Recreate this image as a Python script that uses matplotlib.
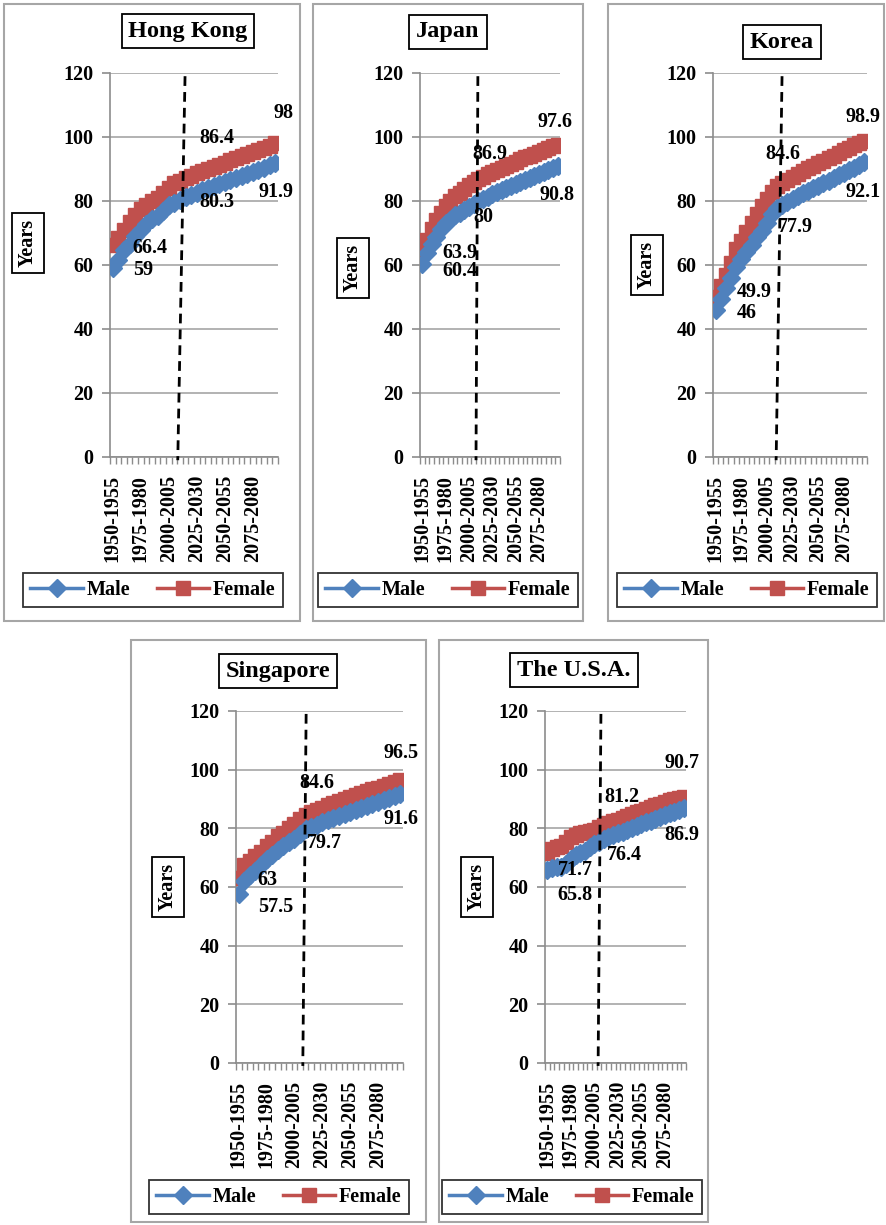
import numpy as np
import matplotlib.pyplot as plt
from matplotlib.patches import Rectangle

plt.rcParams['font.family'] = ['Liberation Serif', 'DejaVu Serif']
plt.rcParams['font.weight'] = 'bold'

# five-year periods, 1950-1955 .. 2095-2100
periods = [f"{y}-{y + 5}" for y in range(1950, 2100, 5)]
now_period = "2010-2015"

hk_male = [59.0, 61.7, 64.6, 66.7, 69.0, 70.9, 72.8, 74.4, 75.4, 77.0, 78.6, 79.4, 80.3,
           81.1, 81.9, 82.6, 83.3, 84.0, 84.7, 85.4, 86.0, 86.7, 87.3, 87.9, 88.5, 89.1,
           89.7, 90.3, 91.1, 91.9]
hk_female = [66.4, 68.5, 71.0, 73.5, 75.5, 77.6, 78.8, 80.0, 81.0, 82.5, 84.2, 85.5, 86.4,
             87.2, 87.9, 88.6, 89.3, 90.0, 90.7, 91.4, 92.0, 92.7, 93.3, 94.0, 94.6, 95.3,
             95.9, 96.6, 97.3, 98.0]

jp_male = [60.4, 63.6, 66.5, 68.9, 71.1, 73.0, 74.2, 75.5, 76.3, 77.1, 78.0, 79.0, 80.0,
           80.7, 81.4, 82.1, 82.8, 83.5, 84.1, 84.8, 85.4, 86.0, 86.7, 87.3, 87.9, 88.5,
           89.1, 89.6, 90.2, 90.8]
jp_female = [63.9, 67.8, 71.4, 74.0, 76.3, 78.5, 79.9, 81.5, 82.6, 83.8, 85.0, 86.0, 86.9,
             87.6, 88.3, 89.0, 89.7, 90.4, 91.0, 91.7, 92.3, 93.0, 93.6, 94.2, 94.8, 95.4,
             96.0, 96.5, 97.1, 97.6]

kr_male = [46.0, 49.5, 52.7, 56.0, 59.5, 61.9, 64.0, 66.4, 68.6, 70.7, 73.0, 75.9, 77.9,
           78.9, 79.8, 80.7, 81.6, 82.4, 83.2, 84.0, 84.8, 85.6, 86.4, 87.2, 88.0, 88.8,
           89.6, 90.4, 91.3, 92.1]
kr_female = [49.9, 53.5, 57.0, 60.5, 65.0, 67.5, 70.3, 73.2, 75.9, 78.5, 80.5, 82.9, 84.6,
             85.7, 86.7, 87.6, 88.5, 89.4, 90.2, 91.0, 91.8, 92.6, 93.4, 94.2, 95.0, 95.8,
             96.6, 97.4, 98.2, 98.9]

sg_male = [57.5, 62.0, 64.0, 65.5, 67.5, 69.5, 70.8, 72.5, 74.0, 75.5, 76.5, 78.2, 79.7,
           80.5, 81.3, 82.0, 82.8, 83.5, 84.2, 84.9, 85.6, 86.3, 87.0, 87.7, 88.4, 89.0,
           89.7, 90.3, 91.0, 91.6]
sg_female = [63.0, 67.5, 69.0, 70.5, 72.0, 74.0, 75.5, 77.5, 78.5, 80.0, 81.5, 83.2, 84.6,
             85.4, 86.2, 87.0, 87.8, 88.5, 89.2, 89.9, 90.6, 91.3, 92.0, 92.6, 93.3, 93.9,
             94.6, 95.2, 95.9, 96.5]

us_male = [65.8, 66.6, 66.8, 66.8, 67.7, 69.5, 70.8, 71.5, 72.3, 73.5, 74.5, 75.5, 76.4,
           77.1, 77.7, 78.3, 78.9, 79.5, 80.1, 80.8, 81.4, 82.0, 82.6, 83.3, 83.9, 84.5,
           85.1, 85.7, 86.3, 86.9]
us_female = [71.7, 73.0, 73.5, 74.0, 75.2, 77.0, 77.8, 78.3, 78.8, 79.0, 79.4, 80.5, 81.2,
             81.8, 82.4, 83.0, 83.6, 84.2, 84.8, 85.4, 86.0, 86.6, 87.2, 87.8, 88.4, 89.0,
             89.5, 89.9, 90.3, 90.7]

BLUE = '#4F81BD'
RED = '#C0504D'
GRID = '#A6A6A6'
AXIS = '#8C8C8C'
FS = 14.5

W, H = 886, 1225
fig = plt.figure(figsize=(W / 100, H / 100), dpi=100)


def rect(l, t, r, b):
    # pixel box (from top-left) -> figure fraction [x, y, w, h]
    return [l / W, 1 - b / H, (r - l) / W, (b - t) / H]


# layout per panel: frame, plot area, title / y-label / legend centres,
# dashed marker lean, and pixel offsets of the value labels
# (female first, male first, female now, male now, female last, male last)
panels = [
    dict(name='Hong Kong', male=hk_male, female=hk_female,
         frame=(4, 4, 300, 621), axes=(110, 73, 278, 457),
         title=(188, 31), ylab=(28, 243), legend=(153, 590), lean=(0.9, -0.4),
         offs=[(20, -3), (20, -2), (19, 43), (19, -2), (-2, 30), (-17, -29)]),
    dict(name='Japan', male=jp_male, female=jp_female,
         frame=(313, 4, 583, 621), axes=(420, 73, 560, 457),
         title=(448, 32), ylab=(353, 268), legend=(448, 590), lean=(-0.1, -0.5),
         offs=[(20, 0), (20, -7), (-6, 25), (-5, -16), (-20, 23), (-18, -29)]),
    dict(name='Korea', male=kr_male, female=kr_female,
         frame=(608, 4, 884, 621), axes=(713, 73, 867, 457),
         title=(782, 42), ylab=(647, 265), legend=(747, 590), lean=(0.95, -0.2),
         offs=[(21, 5), (21, -3), (-12, 32), (1, -19), (-19, 24), (-19, -30)]),
    dict(name='Singapore', male=sg_male, female=sg_female,
         frame=(131, 640, 426, 1222), axes=(236, 711, 403, 1063),
         title=(278, 671), ylab=(168, 887), legend=(279, 1197), lean=(0.1, -0.5),
         offs=[(19, -2), (19, -13), (-6, 32), (1, -14), (-17, 27), (-17, -25)]),
    dict(name='The U.S.A.', male=us_male, female=us_female,
         frame=(439, 640, 708, 1222), axes=(545, 711, 686, 1063),
         title=(574, 670), ylab=(477, 887), legend=(572, 1197), lean=(-0.6, -1.2),
         offs=[(11, -17), (10, -25), (1, 28), (3, -16), (-19, 34), (-19, -27)]),
]

x = np.arange(len(periods))
now = periods.index(now_period)
last = len(periods) - 1

for p in panels:
    fig.patches.append(Rectangle(rect(*p['frame'])[:2], *rect(*p['frame'])[2:],
                                 transform=fig.transFigure, fill=False,
                                 ec='#A6A6A6', lw=1.5, zorder=0))

    ax = fig.add_axes(rect(*p['axes']))
    female_line, = ax.plot(x, p['female'], color=RED, lw=2.5, marker='s', ms=10,
                           mfc=RED, mec=RED, zorder=3, label='Female')
    male_line, = ax.plot(x, p['male'], color=BLUE, lw=2.5, marker='D', ms=9,
                         mfc=BLUE, mec=BLUE, zorder=4, label='Male')

    ax.set_xlim(-0.5, len(periods) - 0.5)
    ax.set_ylim(0, 120)
    ax.set_yticks(range(0, 121, 20))
    ax.grid(axis='y', color=GRID, lw=1.2)
    ax.set_axisbelow(True)
    for side in ('top', 'right'):
        ax.spines[side].set_visible(False)
    for side in ('left', 'bottom'):
        ax.spines[side].set_color(AXIS)
        ax.spines[side].set_linewidth(1.2)

    ax.set_xticks(x[::5], periods[::5], rotation=90, fontsize=FS, fontweight='bold')
    ax.set_xticks(np.arange(-0.5, len(periods)), minor=True)
    ax.tick_params(axis='x', which='major', length=0, pad=13)
    ax.tick_params(axis='x', which='minor', length=5, color=AXIS, width=1)
    ax.tick_params(axis='y', length=6, color=AXIS, width=1.2, pad=6, labelsize=FS)
    for t in ax.get_yticklabels():
        t.set_fontweight('bold')

    # dashed marker for the current period
    top, bottom = p['lean']
    ax.plot([now + top, now + bottom], [119, -1], color='black', lw=2,
            linestyle=(0, (3.5, 2.2)), zorder=5, clip_on=False)

    # value labels at the first, current and last periods
    spots = [(0, p['female']), (0, p['male']), (now, p['female']), (now, p['male']),
             (last, p['female']), (last, p['male'])]
    for (i, series), (dx, dy) in zip(spots, p['offs']):
        ax.annotate(f"{series[i]:g}", (i, series[i]), xytext=(dx, dy),
                    textcoords='offset pixels', ha='left', va='center',
                    fontsize=FS, fontweight='bold', zorder=6)

    tx, ty = p['title']
    fig.text(tx / W, 1 - ty / H, p['name'], ha='center', va='center', fontsize=17.5,
             fontweight='bold',
             bbox=dict(boxstyle='square,pad=0.28', fc='white', ec='black', lw=1.3))
    yx, yy = p['ylab']
    fig.text(yx / W, 1 - yy / H, 'Years', ha='center', va='center', rotation=90,
             fontsize=FS, fontweight='bold',
             bbox=dict(boxstyle='square,pad=0.3', fc='white', ec='black', lw=1.3))

    lx, ly = p['legend']
    leg = ax.legend(handles=[male_line, female_line], loc='center',
                    bbox_to_anchor=(lx / W, 1 - ly / H), bbox_transform=fig.transFigure,
                    ncol=2, frameon=True, fancybox=False,
                    handlelength=2.6, handletextpad=0.2, columnspacing=1.3,
                    borderpad=0.35, prop={'weight': 'bold', 'size': FS})
    leg.get_frame().set_edgecolor('black')
    leg.get_frame().set_linewidth(1.3)

fig.savefig('out.png', dpi=100)
